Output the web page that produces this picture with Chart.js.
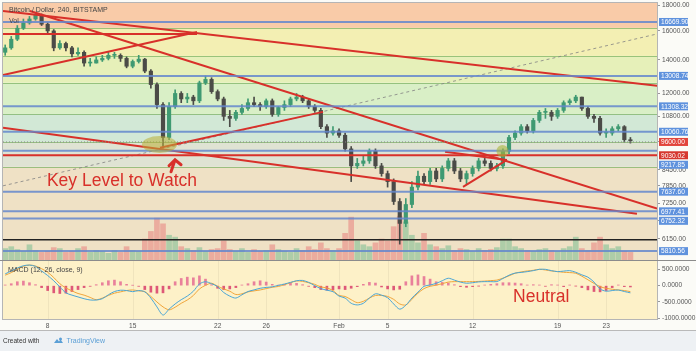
<!DOCTYPE html>
<html lang="en">
  <head>
    <meta charset="UTF-8" />
    <title>Bitcoin / Dollar, 240, BITSTAMP</title>
    <script src="https://cdn.jsdelivr.net/npm/chart.js"></script>
    <style>
      html, body { margin: 0; padding: 0; background: #eef1f4; }
      #wrap { position: relative; width: 696px; height: 351px; font-family: 'Liberation Sans', Arial, sans-serif; }
      #box { position: absolute; left: 0; top: 0; width: 696px; height: 331px; background: #fbfbf7; border-bottom: 1px solid #b9b9b9; box-sizing: border-box; }
      #main { position: absolute; left: 0; top: 0; }
      #macd { position: absolute; left: 0; top: 260px; }
      #footer { position: absolute; left: 3px; top: 337px; font-size: 6.5px; color: #333; display: flex; align-items: center; }
      #footer .tv { color: #5a9fd6; font-size: 7px; margin-left: 3px; }
      #footer svg { margin-left: 13px; }
    </style>
  </head>
  <body>
    <div id="wrap">
      <div id="box"></div>
      <canvas id="main" width="696" height="261"></canvas>
      <canvas id="macd" width="696" height="71"></canvas>
      <div id="footer">
        <span>Created with</span>
        <svg width="11" height="7" viewBox="0 0 22 14">
          <path d="M2 12 L8 4 L12 9 L15 5 L20 12 Z" fill="#5a9fd6" />
          <circle cx="15" cy="4" r="3" fill="#5a9fd6" />
        </svg>
        <span class="tv">TradingView</span>
      </div>
    </div>

    <script>
      // 12h candles starting Jan 4, 12:00 (day numbers counted from Jan 1 = 1)
      const firstDay = 4.5
      const step = 0.5
      const firstOpen = 14500

      const closes = [
        14800, 15400, 16200, 16600, 16900, 17200, 16500, 16000, 14800, 15100,
        14800, 14400, 14500, 13800, 13800, 14000, 14100, 14300, 14300, 14100,
        13600, 13900, 14050, 13300, 12500, 11400, 9800, 11300, 12000, 11700,
        11800, 11600, 12600, 12800, 12100, 11700, 10800, 10700, 11000, 11200,
        11500, 11400, 11300, 11600, 10900, 11250, 11400, 11700, 11800, 11600,
        11300, 11100, 10300, 10000, 10100, 9900, 9300, 8600, 8700, 8800,
        9200, 8600, 8300, 8000, 7300, 6600, 7200, 7800, 8200, 8000,
        8400, 8100, 8500, 8800, 8400, 8100, 8300, 8500, 8800, 8700,
        8500, 8600, 9200, 9800, 10000, 10300, 10100, 10600, 11000, 11000,
        10800, 11100, 11500, 11600, 11800, 11200, 10800, 10700, 10000, 10000,
        10200, 10300, 9700, 9650
      ]
      const highs = [
        15000, 15600, 16400, 16900, 17100, 17400, 17300, 16600, 16100, 15300,
        15200, 14900, 14800, 14600, 14100, 14200, 14300, 14500, 14500, 14400,
        14200, 14000, 14300, 14100, 13400, 12600, 11500, 11500, 12200, 12100,
        12000, 11900, 12700, 13000, 12900, 12200, 11800, 11100, 11100, 11400,
        11700, 11800, 11500, 11700, 11700, 11300, 11600, 11800, 12000, 11900,
        11700, 11400, 11200, 10400, 10300, 10200, 10000, 9400, 8900, 9000,
        9300, 9300, 8700, 8400, 8100, 7400, 7400, 8000, 8400, 8300,
        8500, 8500, 8600, 8900, 8900, 8500, 8400, 8600, 8900, 8900,
        8800, 8700, 9300, 9900, 10100, 10400, 10400, 10700, 11100, 11200,
        11100, 11200, 11600, 11700, 11900, 11800, 11300, 10900, 10800, 10200,
        10300, 10400, 10350, 9800
      ]
      const lows = [
        14300, 14700, 15300, 16100, 16500, 16800, 16400, 15800, 14600, 14700,
        14600, 14200, 14300, 13600, 13600, 13800, 13900, 14000, 14100, 13900,
        13500, 13500, 13800, 13200, 12300, 11200, 9400, 9700, 11200, 11500,
        11500, 11400, 11500, 12500, 12000, 11600, 10600, 10300, 10600, 10900,
        11100, 11300, 11100, 11200, 10800, 10800, 11100, 11300, 11600, 11500,
        11200, 11000, 10200, 9800, 9900, 9800, 9200, 8000, 8500, 8600,
        8700, 8500, 8200, 7800, 7200, 6000, 6500, 7100, 7700, 7900,
        7900, 8000, 8000, 8400, 8300, 8000, 7900, 8200, 8400, 8600,
        8400, 8400, 8500, 9100, 9700, 9900, 10000, 10000, 10500, 10700,
        10600, 10700, 11000, 11400, 11500, 11100, 10700, 10500, 9900, 9800,
        9900, 10100, 9600, 9550
      ]
      const volumes = [
        12, 14, 11, 9, 16, 10, 8, 9, 13, 12, 8,
        9, 12, 14, 8, 10, 9, 7, 10, 8, 14, 10, 9,
        22, 30, 44, 38, 26,
        24, 14, 12, 10, 13, 9, 11, 12,
        20, 11, 9, 12, 8, 11, 9, 10, 16, 11, 9, 8, 12, 10, 14, 11, 18, 12, 10, 12,
        28, 45, 20, 16, 14, 18, 22, 20, 35, 46, 40,
        26, 18, 28, 16, 14, 12, 15, 10, 12, 11, 9, 12, 10, 11, 13,
        22, 22, 14, 12, 10, 9, 11, 12, 10, 9, 12, 14, 24, 12, 10, 18, 24, 16, 12, 14, 9, 8
      ]

      const macdLine = [
        360, 450, 540, 610, 630, 590, 450, 310, 150, -40,
        -220, -290, -345, -400, -439, -440, -400, -280, -180, -140,
        -150, -184, -150, -190, -380, -650, -899, -720, -560, -430,
        -320, -170, 50, 120, 60, -30, -210, -320, -380, -280,
        -180, -130, -80, -55, -35, 10, 50, 100, 150, 160,
        100, 0, -90, -140, -184, -320, -380, -540, -590, -540,
        -380, -250, -290, -370, -560, -720, -600, -380, -200, -20,
        20, 70, 150, 227, 170, 110, 74, 90, 115, 123,
        123, 125, 220, 320, 385, 405, 429, 460, 500, 500,
        460, 430, 445, 460, 410, 330, 260, 110, -100, -170,
        -150, -135, -180, -220
      ]
      const signalLine = [
        320, 400, 500, 590, 630, 600, 520, 410, 250, 60,
        -70, -160, -240, -290, -360, -430, -380, -300, -230, -190,
        -150, -132, -160, -184, -330, -500, -650, -740, -660, -540,
        -439, -300, -100, 10, 74, -20, -100, -170, -270, -250,
        -190, -160, -132, -90, -50, -25, 30, 90, 145, 130,
        90, 40, -40, -70, -150, -300, -330, -430, -520, -480,
        -380, -300, -300, -330, -420, -560, -590, -420, -230, -90,
        -20, 15, 60, 110, 123, 123, 123, 123, 130, 140,
        155, 170, 230, 300, 380, 420, 450, 470, 500, 480,
        450, 430, 410, 400, 380, 290, 180, 70, -30, -80,
        -110, -130, -150, -184
      ]
      const macdHist = [
        20, 60, 120, 140, 90, 30, -60, -150, -220, -240,
        -230, -180, -120, -60, -20, 30, 90, 150, 170, 120,
        40, 10, -20, -120, -200, -230, -220, -100, 120, 220,
        260, 240, 300, 200, 30, -80, -120, -100, -60, 20,
        60, 120, 150, 110, 40, 10, 40, 80, 70, 30,
        -20, -60, -120, -140, -130, -100, -120, -80, -30, 40,
        100, 80, -40, -100, -130, -110, 120, 300, 330, 280,
        200, 120, 100, 80, 30, -30, -50, -30, -10, 20,
        40, 60, 90, 90, 80, 60, 20, 30, 20, -20,
        30, 20, -30, 20, -10, -60, -130, -180, -190, -150,
        -60, 20, -30, -40
      ]

      const priceTicks = [18000, 16000, 14000, 12000, 10800, 9600, 8450, 7850, 7250, 6700, 6150]
      const macdTicks = [500, 0, -500, -1000]
      const dayTicks = [8, 15, 22, 26, 32, 36, 43, 50, 54]
      const dayLabels = ['8', '15', '22', '26', 'Feb', '5', '12', '19', '23']

      const blueLevels = [16669.9, 13008.74, 11308.32, 10060.76, 9217.85, 7637.6, 6977.41, 6752.32, 5810.56]
      const redLevels = [9030.02]
      const blackLevels = [6120]
      const lastPrice = 9600
      const fibLevels = [16220, 14260, 12600, 10920, 9600, 8560]
      const bandColors = ['#f9cba8', '#f3efb3', '#e6f0b9', '#d9efc6', '#d2e8d6', '#dfe3d3', '#efe1c5']

      // drawn lines: [startDay, startPrice, endDay, endPrice]
      const trendLines = [
        [4.32, 17530, 58.27, 12420],
        [6.54, 17530, 58.19, 7065],
        [4.32, 13066, 20.3, 15919],
        [4.32, 15775, 20.3, 15775],
        [17.25, 9344, 30.68, 11025],
        [4.32, 10247, 56.54, 6901],
        [40.73, 9180, 45.83, 8840],
        [42.21, 7808, 45.83, 8840]
      ]
      const dashedLine = [4.32, 7846, 58.19, 15775]

      const xMin = 4.32
      const xMax = 58.19
      const red = '#d8302a'

      Chart.defaults.font.family = "'Liberation Sans', Arial, sans-serif"
      Chart.defaults.animation = false

      const dayOf = i => firstDay + step * i
      const opens = closes.map((c, i) => (i === 0 ? firstOpen : closes[i - 1]))
      const candleColor = closes.map((c, i) => (c >= opens[i] ? '#3f9a72' : '#4b4b47'))
      const volColor = closes.map((c, i) =>
        c >= opens[i] ? 'rgba(110,185,140,0.5)' : 'rgba(232,120,120,0.5)'
      )

      // no extra space around the axes
      const fitY = s => {
        s.width = 39
        s.paddingTop = 0
        s.paddingBottom = 0
      }

      // background zones of the price pane
      const bandsPlugin = {
        id: 'bands',
        beforeDatasetsDraw(chart) {
          const { ctx, chartArea: a, scales } = chart
          ctx.save()
          let top = a.top
          bandColors.forEach((c, i) => {
            const bottom = i < fibLevels.length ? scales.y.getPixelForValue(fibLevels[i]) : a.bottom
            ctx.fillStyle = c
            ctx.fillRect(a.left, top, a.right - a.left, bottom - top)
            top = bottom
          })
          ctx.strokeStyle = 'rgba(120,175,95,0.7)'
          ctx.lineWidth = 1
          fibLevels.forEach(v => {
            const y = Math.round(scales.y.getPixelForValue(v)) + 0.5
            ctx.beginPath()
            ctx.moveTo(a.left, y)
            ctx.lineTo(a.right, y)
            ctx.stroke()
          })
          ctx.restore()
        }
      }

      function hLine(ctx, a, y, color, width, dash) {
        ctx.strokeStyle = color
        ctx.lineWidth = width
        ctx.setLineDash(dash || [])
        ctx.beginPath()
        ctx.moveTo(a.left, y)
        ctx.lineTo(a.right, y)
        ctx.stroke()
        ctx.setLineDash([])
      }

      const overlayPlugin = {
        id: 'overlay',
        afterDatasetsDraw(chart) {
          const { ctx, chartArea: a, scales } = chart
          const { x, y } = scales
          ctx.save()
          ctx.beginPath()
          ctx.rect(a.left, a.top, a.right - a.left, a.bottom - a.top)
          ctx.clip()

          hLine(ctx, a, y.getPixelForValue(lastPrice), '#8a8a8a', 1, [1, 2])
          blueLevels.forEach(v => hLine(ctx, a, y.getPixelForValue(v), 'rgba(100,135,205,0.85)', 2))
          redLevels.forEach(v => hLine(ctx, a, y.getPixelForValue(v), red, 2))
          blackLevels.forEach(v => hLine(ctx, a, y.getPixelForValue(v), '#222', 1.5))

          // highlighted zones
          ctx.fillStyle = 'rgba(185,175,55,0.55)'
          ctx.beginPath()
          ctx.ellipse(x.getPixelForValue(17.21), y.getPixelForValue(9491), 17.5, 8.5, 0, 0, Math.PI * 2)
          ctx.fill()
          ctx.fillStyle = 'rgba(170,180,60,0.6)'
          ctx.beginPath()
          ctx.ellipse(x.getPixelForValue(45.46), y.getPixelForValue(9212), 6, 6, 0, 0, Math.PI * 2)
          ctx.fill()

          // arrow
          const ax = x.getPixelForValue(18.49)
          const ay = y.getPixelForValue(8845)
          ctx.strokeStyle = red
          ctx.lineWidth = 3
          ctx.lineCap = 'round'
          ctx.beginPath()
          ctx.moveTo(ax - 6, ay + 6)
          ctx.lineTo(ax, ay)
          ctx.lineTo(ax + 6, ay + 5)
          ctx.moveTo(ax, ay)
          ctx.lineTo(ax - 4, ay + 12)
          ctx.stroke()

          ctx.fillStyle = red
          ctx.font = "17.5px 'Liberation Sans', Arial, sans-serif"
          ctx.textBaseline = 'alphabetic'
          ctx.fillText('Key Level to Watch', x.getPixelForValue(7.94), y.getPixelForValue(7846))

          ctx.fillStyle = '#444'
          ctx.font = "7px 'Liberation Sans', Arial, sans-serif"
          ctx.textBaseline = 'middle'
          ctx.fillText('Bitcoin / Dollar, 240, BITSTAMP', a.left + 6, a.top + 7)
          ctx.fillText('Vol', a.left + 6, a.top + 18)
          ctx.restore()

          ctx.save()
          ctx.strokeStyle = '#b5b5b5'
          ctx.lineWidth = 1
          ctx.strokeRect(a.left - 0.5, a.top - 0.5, a.right - a.left + 1, a.bottom - a.top + 1)
          ctx.restore()
        },
        afterDraw(chart) {
          const { ctx, chartArea: a, scales } = chart
          // last price first, then drawn levels; a label that collides moves to the nearest free slot
          const items = [{ v: lastPrice, c: '#e2453c' }]
            .concat(redLevels.map(v => ({ v, c: '#d6382f' })), blueLevels.map(v => ({ v, c: '#5f92dd' })))
            .map(o => ({ ...o, y: scales.y.getPixelForValue(o.v) }))
          const gap = 9.5
          const placed = []
          items.forEach(o => {
            const free = yy => placed.every(p => Math.abs(p.y - yy) >= gap)
            if (!free(o.y)) {
              const cands = placed
                .flatMap(p => [p.y - gap, p.y + gap])
                .filter(free)
                .sort((m, n) => Math.abs(m - o.y) - Math.abs(n - o.y))
              o.y = cands[0]
            }
            placed.push(o)
          })
          ctx.save()
          ctx.font = "6.6px 'Liberation Sans', Arial, sans-serif"
          ctx.textBaseline = 'middle'
          placed.forEach(o => {
            ctx.fillStyle = o.c
            ctx.fillRect(a.right + 2, o.y - 4, 29, 8)
            ctx.fillStyle = '#fff'
            ctx.fillText(o.v.toFixed(2), a.right + 4, o.y + 0.5)
          })
          ctx.restore()
        }
      }

      const lineData = l => [{ x: l[0], y: l[1] }, { x: l[2], y: l[3] }]

      new Chart(document.getElementById('main'), {
        data: {
          datasets: [
            ...trendLines.map(l => ({
              type: 'line',
              data: lineData(l),
              borderColor: red,
              borderWidth: 2,
              pointRadius: 0,
              order: 0
            })),
            {
              type: 'line',
              data: lineData(dashedLine),
              borderColor: 'rgba(130,130,130,0.8)',
              borderWidth: 1,
              borderDash: [3, 3],
              pointRadius: 0,
              order: 0
            },
            {
              type: 'bar',
              data: closes.map((c, i) => ({ x: dayOf(i), y: [opens[i], c] })),
              backgroundColor: candleColor,
              barThickness: 3.5,
              minBarLength: 1,
              grouped: false,
              order: 1
            },
            {
              type: 'bar',
              data: closes.map((c, i) => ({ x: dayOf(i), y: [lows[i], highs[i]] })),
              backgroundColor: candleColor,
              barThickness: 1,
              grouped: false,
              order: 2
            },
            {
              type: 'bar',
              yAxisID: 'yv',
              data: volumes.map((v, i) => ({ x: dayOf(i), y: v })),
              backgroundColor: volColor,
              barThickness: 5,
              grouped: false,
              order: 3
            }
          ]
        },
        options: {
          responsive: false,
          layout: { padding: { left: 3, top: 3, right: 0, bottom: 1 } },
          plugins: { legend: { display: false }, tooltip: { enabled: false } },
          scales: {
            x: { type: 'linear', min: xMin, max: xMax, offset: false, bounds: 'data', display: false },
            y: {
              type: 'logarithmic',
              position: 'right',
              bounds: 'data',
              min: 5578,
              max: 18191,
              afterBuildTicks: s => {
                s.ticks = priceTicks.map(v => ({ value: v }))
              },
              afterFit: fitY,
              grid: { drawOnChartArea: false, tickLength: 3, color: '#999' },
              border: { color: '#aaa' },
              ticks: {
                autoSkip: false,
                padding: 2,
                color: '#555',
                font: { size: 6.6 },
                callback: v => Number(v).toFixed(2)
              }
            },
            yv: { display: false, min: 0, max: 270 }
          }
        },
        plugins: [bandsPlugin, overlayPlugin]
      })

      const macdPlugin = {
        id: 'macdOverlay',
        beforeDatasetsDraw(chart) {
          const { ctx, chartArea: a } = chart
          ctx.save()
          ctx.fillStyle = '#fdf1c8'
          ctx.fillRect(a.left, a.top, a.right - a.left, a.bottom - a.top)
          ctx.strokeStyle = 'rgba(0,0,0,0.05)'
          dayTicks.forEach(d => {
            const px = Math.round(chart.scales.x.getPixelForValue(d)) + 0.5
            ctx.beginPath()
            ctx.moveTo(px, a.top)
            ctx.lineTo(px, a.bottom)
            ctx.stroke()
          })
          ctx.restore()
        },
        afterDatasetsDraw(chart) {
          const { ctx, chartArea: a, scales } = chart
          ctx.save()
          ctx.fillStyle = '#444'
          ctx.font = "7px 'Liberation Sans', Arial, sans-serif"
          ctx.textBaseline = 'middle'
          ctx.fillText('MACD (12, 26, close, 9)', a.left + 5, a.top + 9)
          ctx.fillStyle = red
          ctx.font = "17.5px 'Liberation Sans', Arial, sans-serif"
          ctx.textBaseline = 'alphabetic'
          ctx.fillText('Neutral', scales.x.getPixelForValue(46.33), scales.y.getPixelForValue(-491))
          ctx.strokeStyle = '#b5b5b5'
          ctx.lineWidth = 1
          ctx.strokeRect(a.left - 0.5, a.top - 0.5, a.right - a.left + 1, a.bottom - a.top + 1)
          ctx.strokeStyle = '#8c8c8c'
          ctx.beginPath()
          ctx.moveTo(0, 0.5)
          ctx.lineTo(chart.width, 0.5)
          ctx.stroke()
          ctx.restore()
        }
      }

      new Chart(document.getElementById('macd'), {
        data: {
          datasets: [
            {
              type: 'line',
              data: macdLine.map((v, i) => ({ x: dayOf(i), y: v })),
              borderColor: '#4aa6d6',
              borderWidth: 1,
              pointRadius: 0,
              tension: 0.3,
              order: 0
            },
            {
              type: 'line',
              data: signalLine.map((v, i) => ({ x: dayOf(i), y: v })),
              borderColor: '#f0a53a',
              borderWidth: 1,
              pointRadius: 0,
              tension: 0.3,
              order: 1
            },
            {
              type: 'bar',
              data: macdHist.map((v, i) => ({ x: dayOf(i), y: v })),
              backgroundColor: macdHist.map(v => (v >= 0 ? 'rgba(226,90,140,0.75)' : 'rgba(214,50,100,0.8)')),
              barThickness: 2,
              grouped: false,
              order: 2
            }
          ]
        },
        options: {
          responsive: false,
          layout: { padding: { left: 3, top: 1, right: 0, bottom: 0 } },
          plugins: { legend: { display: false }, tooltip: { enabled: false } },
          scales: {
            x: {
              type: 'linear',
              min: xMin,
              max: xMax,
              offset: false,
              bounds: 'data',
              afterBuildTicks: s => {
                s.ticks = dayTicks.map(v => ({ value: v }))
              },
              afterFit: s => {
                s.height = 12
                s.paddingLeft = 0
                s.paddingRight = 0
              },
              grid: { display: false, drawTicks: false },
              border: { display: false },
              ticks: {
                autoSkip: false,
                maxRotation: 0,
                padding: 3,
                color: '#555',
                font: { size: 6.6 },
                callback: v => dayLabels[dayTicks.indexOf(v)]
              }
            },
            y: {
              position: 'right',
              bounds: 'data',
              min: -1021,
              max: 755,
              afterBuildTicks: s => {
                s.ticks = macdTicks.map(v => ({ value: v }))
              },
              afterFit: fitY,
              grid: { drawOnChartArea: false, tickLength: 3, color: '#999' },
              border: { color: '#aaa' },
              ticks: {
                autoSkip: false,
                padding: 2,
                color: '#555',
                font: { size: 6.6 },
                callback: v => Number(v).toFixed(4)
              }
            }
          }
        },
        plugins: [macdPlugin]
      })
    </script>
  </body>
</html>
